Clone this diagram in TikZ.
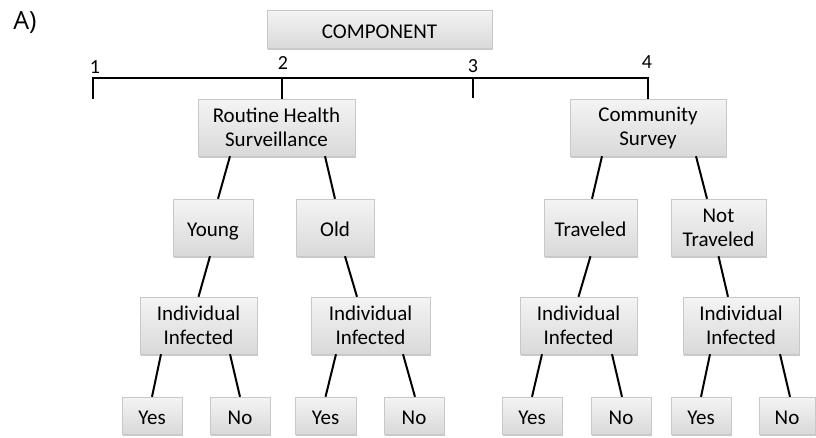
\documentclass[tikz,border=0pt]{standalone}
\usepackage{fontspec}
\setmainfont{Carlito}
\newfontfamily\labfont{Open Sans}
\usetikzlibrary{shadows}
\definecolor{boxtop}{HTML}{F4F4F4}
\definecolor{boxbot}{HTML}{D9D9D9}
\definecolor{boxedge}{HTML}{C8C8C8}
\tikzset{
  box/.style={draw=boxedge, line width=0.4pt, top color=boxtop, bottom color=boxbot,
    align=center, inner sep=0pt, font=\fontsize{21}{24}\selectfont,
    drop shadow={shadow xshift=1.2pt, shadow yshift=-1.8pt, opacity=0.35, fill=black!60}},
  oneline/.style={text height=18pt, text depth=0pt},
  link/.style={line width=2pt, black},
  brk/.style={line width=2.3pt, black},
  num/.style={font=\fontsize{20}{22}\selectfont, inner sep=0pt}
}
\newcommand\bx[7][]{\node[box, #1, minimum width={(#5-#3)*1pt}, minimum height={(#6-#4)*1pt}] (#2) at ({(#3+#5)/2},{(#4+#6)/2}) {#7};}
\begin{document}
\begin{tikzpicture}[x=1pt,y=-1pt]
\useasboundingbox (0,0) rectangle (816,437);
\node[font=\labfont\fontsize{25}{28}\selectfont, inner sep=0pt] (lab) at (25,23) {A)};
\bx[oneline]{comp}{267}{10}{492}{48}{COMPONENT}
% bracket
\coordinate (b1) at (93,78);
\coordinate (b4) at (648,78);
\coordinate (t1) at (93,98);
\coordinate (t2) at (282,99);
\coordinate (t3) at (473,98);
\coordinate (t4) at (648,99);
\draw[brk, line cap=rect] (t1) -- (b1) -- (b4) -- (t4);
\draw[brk] (t2 |- b1) -- (t2);
\draw[brk] (t3 |- b1) -- (t3);
\node[num] (n1) at (95,67) {1};
\node[num] (n2) at (283,63) {2};
\node[num] (n3) at (473,66) {3};
\node[num] (n4) at (647,62) {4};
% level 1
\bx{rhs}{198}{99}{355}{156}{Routine Health\\Surveillance}
\bx{cs}{570}{99}{726}{156}{Community\\Survey}
% level 2
\bx[oneline]{young}{173}{199}{253}{256}{Young}
\bx[oneline]{old}{296}{199}{374}{256}{Old}
\bx[oneline]{trav}{544}{199}{637}{256}{Traveled}
\bx{ntrav}{671}{199}{766}{256}{Not\\Traveled}
% level 3
\bx{ia}{140}{297}{257}{354}{Individual\\Infected}
\bx{ib}{311}{297}{430}{354}{Individual\\Infected}
\bx{ic}{520}{297}{637}{354}{Individual\\Infected}
\bx{id}{683}{297}{799}{354}{Individual\\Infected}
% level 4
\bx[oneline]{ya}{122}{397}{182}{434}{Yes}
\bx[oneline]{na}{210}{397}{270}{434}{No}
\bx[oneline]{yb}{295}{397}{356}{434}{Yes}
\bx[oneline]{nb}{384}{397}{444}{434}{No}
\bx[oneline]{yc}{502}{397}{562}{434}{Yes}
\bx[oneline]{nc}{591}{397}{651}{434}{No}
\bx[oneline]{yd}{671}{397}{731}{434}{Yes}
\bx[oneline]{nd}{759}{397}{815}{434}{No}
% connectors
\draw[link] ([xshift=-46.5pt]rhs.south) -- ([xshift=5pt]young.north);
\draw[link] ([xshift=48.5pt]rhs.south) -- (old.north);
\draw[link] ([xshift=-46pt]cs.south) -- ([xshift=1.5pt]trav.north);
\draw[link] ([xshift=48pt]cs.south) -- ([xshift=-11.5pt]ntrav.north);
\draw[link] ([xshift=-3pt]young.south) -- (ia.north);
\draw[link] ([xshift=10pt]old.south) -- ([xshift=-13.5pt]ib.north);
\draw[link] (trav.south) -- (ic.north);
\draw[link] (ntrav.south) -- ([xshift=-13pt]id.north);
\draw[link] ([xshift=-37.5pt]ia.south) -- (ya.north);
\draw[link] ([xshift=31.5pt]ia.south) -- (na.north);
\draw[link] ([xshift=-34.5pt]ib.south) -- (yb.north);
\draw[link] ([xshift=32.5pt]ib.south) -- ([xshift=1pt]nb.north);
\draw[link] ([xshift=-36.5pt]ic.south) -- (yc.north);
\draw[link] ([xshift=33.5pt]ic.south) -- ([xshift=1pt]nc.north);
\draw[link] ([xshift=-31pt]id.south) -- (yd.north);
\draw[link] ([xshift=39pt]id.south) -- ([xshift=3pt]nd.north);
\end{tikzpicture}
\end{document}
